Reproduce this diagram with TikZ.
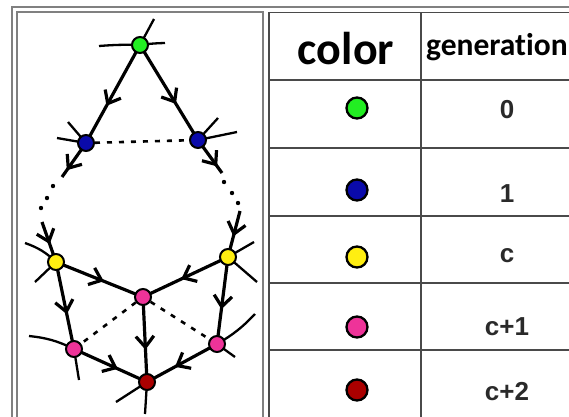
\documentclass[tikz,border=0pt]{standalone}
\usepackage{fontspec}
\setmainfont{Liberation Sans}
\newfontfamily\carlito[RawFeature=-liga]{Carlito}
\usetikzlibrary{arrows.meta,decorations.markings,backgrounds}
\definecolor{genzero}{HTML}{22EE22}
\definecolor{genone}{HTML}{0A0AAA}
\definecolor{genc}{HTML}{FFEE11}
\definecolor{gencone}{HTML}{EE3399}
\definecolor{genctwo}{HTML}{AA0000}
\definecolor{framecol}{HTML}{808080}
\definecolor{tablecol}{HTML}{4A4A4A}
\definecolor{numcol}{HTML}{2A2A2A}
\tikzset{
  vtx/.style={circle, draw=black, line width=2pt, minimum size=16pt, inner sep=0pt},
  legvtx/.style={circle, draw=black, line width=2.3pt, minimum size=21pt, inner sep=0pt},
  edge/.style={line width=3.2pt},
  stub/.style={line width=2.3pt},
  dashline/.style={line width=2.6pt, dash pattern=on 5pt off 7pt},
  midarrow/.style={postaction={decorate, decoration={markings,
      mark=at position #1 with {\arrow{Straight Barb[length=11pt,width=18pt,line width=3.2pt]}}}}},
  numtext/.style={font=\bfseries\fontsize{26}{26}\selectfont, text=numcol, anchor=base, inner sep=0pt},
  dotmark/.style={fill=black}
}
\begin{document}
\begin{tikzpicture}[x=1pt,y=-1pt]
\useasboundingbox (0,0) rectangle (569,416);
% frames
\draw[framecol, line width=2.2pt] (12,420) -- (12,7) -- (575,7);
\draw[framecol, line width=2.2pt] (17,420) -- (17,12) -- (263,12) -- (263,420);
% table
\draw[tablecol, line width=1.8pt] (269,420) -- (269,12.5) -- (575,12.5);
\draw[tablecol, line width=1.8pt] (421,12.5) -- (421,420);
\foreach \yy in {80,148,216,283,350} \draw[tablecol, line width=1.8pt] (269,\yy) -- (575,\yy);
\node[font=\carlito\bfseries\fontsize{46}{46}\selectfont, anchor=base, inner sep=0pt] (hcolor) at (346,64) {color};
\node[font=\carlito\bfseries\fontsize{31.5}{31.5}\selectfont, anchor=base west, inner sep=0pt] (hgen) at (426,55.5) {generation};
\node[legvtx, fill=genzero] (l0) at (357,108) {};
\node[legvtx, fill=genone] (l1) at (357,190) {};
\node[legvtx, fill=genc] (l2) at (357,257) {};
\node[legvtx, fill=gencone] (l3) at (357,327) {};
\node[legvtx, fill=genctwo] (l4) at (357,390) {};
\node[numtext] (t0) at (507,118) {0};
\node[numtext] (t1) at (507,202) {1};
\node[numtext] (t2) at (507,262) {c};
\node[numtext] (t3) at (507,335) {c+1};
\node[numtext] (t4) at (507,400) {c+2};
% graph vertices
\node[vtx, fill=genzero] (g) at (140,45) {};
\node[vtx, fill=genone] (bl) at (86,143) {};
\node[vtx, fill=genone] (br) at (198,140) {};
\node[vtx, fill=genc] (yl) at (56,262) {};
\node[vtx, fill=genc] (yr) at (228,257) {};
\node[vtx, fill=gencone] (pc) at (143,297) {};
\node[vtx, fill=gencone] (pl) at (74,349) {};
\node[vtx, fill=gencone] (pr) at (217,344) {};
\node[vtx, fill=genctwo] (r) at (147,382) {};
% free ends
\coordinate (blout) at (62,177);
\coordinate (ylin) at (42,222);
\coordinate (brout) at (222,173);
\coordinate (yrin) at (240,211);
\begin{scope}[on background layer]
% stubs
\draw[stub] (99,46) to[bend left=3] (g.center) to[bend left=3] (165,43);
\draw[stub] (g.center) -- (154,19);
\draw[stub] (bl.center) -- (68,122);
\draw[stub] (bl.center) -- (57,138);
\draw[stub] (br.center) -- (218,118);
\draw[stub] (br.center) -- (237,132);
\draw[stub] (25,243) to[bend left=12] (yl.center);
\draw[stub] (yl.center) -- (35,282);
\draw[stub] (yr.center) -- (254,242);
\draw[stub] (yr.center) -- (257,282);
\draw[stub] (29,336) to[bend left=10] (pl.center);
\draw[stub] (pl.center) -- (79,380);
\draw[stub] (255,314) to[bend left=8] (pr.center);
\draw[stub] (pr.center) -- (235,357);
\draw[stub] (r.center) -- (116,402);
\draw[stub] (r.center) -- (145,414);
% dashed
\draw[dashline] (bl) -- (br);
\draw[dashline] (pc) -- (pl);
\draw[dashline] (pc) -- (pr);
% edges
\draw[edge, midarrow=0.62] (g.center) -- (bl.center);
\draw[edge, midarrow=0.62] (g.center) -- (br.center);
\draw[edge, midarrow=0.8] (bl.center) -- (blout);
\draw[edge, midarrow=0.8] (br.center) -- (brout);
\draw[edge, midarrow=0.55] (ylin) -- (yl.center);
\draw[edge, midarrow=0.55] (yrin) -- (yr.center);
\draw[edge, midarrow=0.55] (yl.center) -- (pc.center);
\draw[edge, midarrow=0.55] (yr.center) -- (pc.center);
\draw[edge, midarrow=0.6] (yl.center) -- (pl.center);
\draw[edge, midarrow=0.6] (yr.center) -- (pr.center);
\draw[edge, midarrow=0.62] (pc.center) -- (r.center);
\draw[edge, midarrow=0.6] (pl.center) -- (r.center);
\draw[edge, midarrow=0.6] (pr.center) -- (r.center);
% dotted continuations
\foreach \p in {(53,186),(47,198),(41,208),(224,182),(232,193),(238,203)}
  \fill[dotmark] \p circle (2.2pt);
\end{scope}
\end{tikzpicture}
\end{document}
